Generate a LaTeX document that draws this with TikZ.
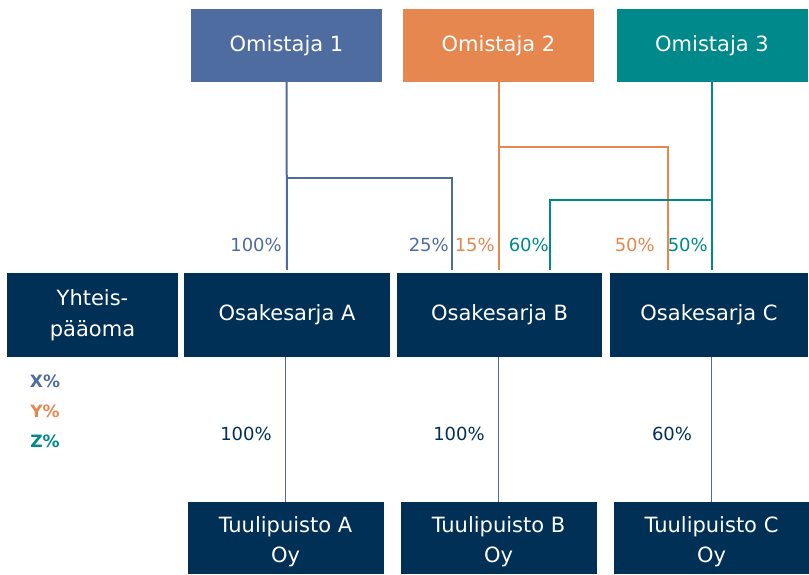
\documentclass[tikz,border=0pt]{standalone}
\usepackage{fontspec}
\setmainfont{DejaVu Sans}
\usetikzlibrary{positioning}
\definecolor{cBlue}{RGB}{79,108,160}
\definecolor{cOrange}{RGB}{230,135,80}
\definecolor{cTeal}{RGB}{0,137,138}
\definecolor{cNavy}{RGB}{1,48,87}
\tikzset{
	owner/.style ={rectangle, minimum width=191pt, minimum height=73pt, text=white, inner sep=0pt, font=\fontsize{21}{26}\selectfont},
	series/.style={rectangle, fill=cNavy, minimum height=84pt, text=white, align=center, inner sep=0pt, font=\fontsize{21}{31}\selectfont},
	park/.style  ={rectangle, fill=cNavy, minimum height=72pt, minimum width=196pt, text=white, align=center, inner sep=0pt, font=\fontsize{21}{30}\selectfont},
	% connector styles
	own/.style   ={line width=2pt},
	sub/.style   ={line width=1.3pt, cBlue},
	pct/.style   ={inner sep=0pt, anchor=east, font=\fontsize{18}{20}\selectfont},
	subpct/.style={inner sep=0pt, text=cNavy, font=\fontsize{18}{20}\selectfont},
	legend/.style={inner sep=0pt, font=\bfseries\fontsize{17}{20}\selectfont},
}
\newcommand{\parkstrut}{\rule{0pt}{24pt}}
\begin{document}
\begin{tikzpicture}[x=1pt, y=-1pt]
	\useasboundingbox (0,0) rectangle (809,574);
	% owners
	\node[owner, fill=cBlue]   (own1) at (286.5,45.5) {Omistaja 1};
	\node[owner, fill=cOrange] (own2) at (498.5,45.5) {Omistaja 2};
	\node[owner, fill=cTeal]   (own3) at (712,45.5)   {Omistaja 3};
	% share series
	\node[series, minimum width=171pt] (equity) at (92.5,315) {Yhteis-\\pääoma};
	\node[series, minimum width=206pt] (srA) at (287,315)   {Osakesarja A};
	\node[series, minimum width=205pt] (srB) at (499.5,315) {Osakesarja B};
	\node[series, minimum width=198pt] (srC) at (709,315)   {Osakesarja C};
	% wind parks
	\node[park] (parkA) at (285.5,538) {\parkstrut Tuulipuisto A\\Oy};
	\node[park] (parkB) at (498.5,538) {\parkstrut Tuulipuisto B\\Oy};
	\node[park] (parkC) at (711.5,538) {\parkstrut Tuulipuisto C\\Oy};
	% entry points on the series
	\coordinate (inA1) at (287,270);
	\coordinate (inB1) at (452,270);
	\coordinate (inB2) at (498.5,270);
	\coordinate (inB3) at (550,270);
	\coordinate (inC2) at (668,270);
	\coordinate (inC3) at (712,270);
	% owner lines
	\draw[own, cBlue] (own1.south) -- (inA1);
	\draw[own, cBlue] (own1.south |- 0,178) -| (inB1);
	\draw[own, cOrange] (own2.south) -- (inB2);
	\draw[own, cOrange] (own2.south |- 0,147) -| (inC2);
	\draw[own, cTeal] (own3.south) -- (inC3);
	\draw[own, cTeal] (own3.south |- 0,200) -| (inB3);
	\node[pct, text=cBlue]   at (282,245) {100\%};
	\node[pct, text=cBlue]   at (449,245) {25\%};
	\node[pct, text=cOrange] at (495,245) {15\%};
	\node[pct, text=cTeal]   at (549,245) {60\%};
	\node[pct, text=cOrange] at (655,245) {50\%};
	\node[pct, text=cTeal]   at (708,245) {50\%};
	% series to parks
	\draw[sub] (srA.south -| parkA) -- (parkA.north);
	\draw[sub] (srB.south -| parkB) -- (parkB.north);
	\draw[sub] (srC.south -| parkC) -- (parkC.north);
	\node[subpct] at (246,434) {100\%};
	\node[subpct] at (459,434) {100\%};
	\node[subpct] at (672,434) {60\%};
	% legend
	\node[legend, text=cBlue]   (legX) at (45,381) {X\%};
	\node[legend, text=cOrange] (legY) at (45,411) {Y\%};
	\node[legend, text=cTeal]   (legZ) at (45,441) {Z\%};
\end{tikzpicture}
\end{document}
